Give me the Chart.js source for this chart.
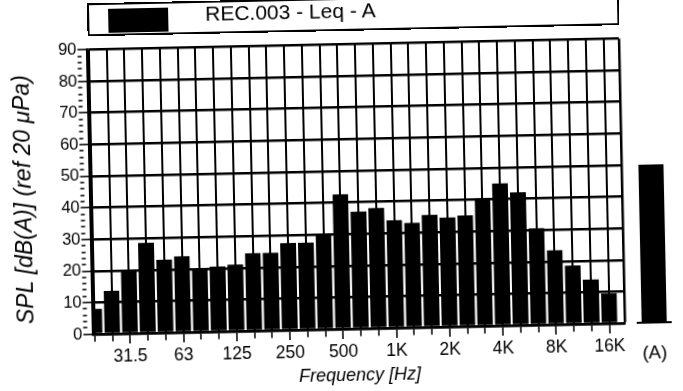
<!DOCTYPE html>
<html>
<head>
<meta charset="utf-8">
<script src="https://cdn.jsdelivr.net/npm/chart.js@4.4.1/dist/chart.umd.min.js"></script>
<style>
html,body{margin:0;padding:0;background:#fff;overflow:hidden;width:683px;height:391px;}
#wrap{position:absolute;left:0;top:0;width:683px;height:391px;transform:rotate(-1.2deg);transform-origin:341.5px 195.5px;}
#main{position:absolute;left:0;top:0;}
#side{position:absolute;left:628px;top:0;}
#legend{position:absolute;left:91px;top:-2px;width:528px;height:29px;border:2px solid #000;font-family:"Liberation Sans",Arial,sans-serif;color:#000;}
#legend .sw{position:absolute;left:19px;top:4px;width:60px;height:24px;background:#000;}
#legend .tx{position:absolute;left:116px;top:0px;font-size:21px;line-height:21px;white-space:nowrap;}
</style>
</head>
<body>
<div id="wrap">
  <canvas id="main" width="683" height="391"></canvas>
  <canvas id="side" width="58" height="391"></canvas>
  <div id="legend"><span class="sw"></span><span class="tx" id="legendText"></span></div>
</div>
<script>
// 1/3-octave band centres (Hz)
const bands = ['20','25','31.5','40','50','63','80','100','125','160','200','250','315','400','500','630','800','1K','1.25K','1.6K','2K','2.5K','3.15K','4K','5K','6.3K','8K','10K','12.5K','16K'];
// labelled frequencies on the x axis
const freqTickLabels = ['31.5','63','125','250','500','1K','2K','4K','8K','16K'];
// band levels, dB(A)
const levels = [8,13.5,19.5,28.5,23,24,20,20.5,21,24.5,24.5,27.5,27.5,30,42.5,37,38,34,33,35.5,34.5,35,40.5,45,42,30.5,23.5,18.5,14,9.5];
// overall A-weighted level
const overallLabel = ['(A)'];
const overallValue = [50];
// y tick labels
const yTickLabels = [0,10,20,30,40,50,60,70,80,90];

const seriesName = 'REC.003 - Leq - A';
const xTitle = 'Frequency [Hz]';
const yTitle = 'SPL [dB(A)] (ref 20 \u03bcPa)';

document.getElementById('legendText').textContent = seriesName;

const FAM = '"Liberation Sans", Arial, Helvetica, sans-serif';
const X_MIN = -0.07, X_MAX = 29.86;

const yTitlePlugin = {
  id: 'yTitleText',
  afterDraw(chart) {
    const ctx = chart.ctx;
    ctx.save();
    ctx.translate(24.5, 193);
    ctx.rotate(-Math.PI / 2);
    ctx.font = 'italic 23px ' + FAM;
    ctx.fillStyle = '#000';
    ctx.textAlign = 'center';
    ctx.textBaseline = 'middle';
    ctx.fillText(yTitle, 0, 0);
    ctx.restore();
  }
};

new Chart(document.getElementById('main'), {
  type: 'bar',
  data: {
    datasets: [{
      label: seriesName,
      data: levels.map((v, i) => ({x: i, y: v})),
      backgroundColor: '#000',
      borderColor: '#000',
      borderWidth: 0.5,
      barPercentage: 1,
      categoryPercentage: 1
    }]
  },
  options: {
    responsive: false,
    animation: false,
    devicePixelRatio: 1,
    layout: {padding: {left: 0, right: 61, top: 44.5, bottom: 0}},
    plugins: {legend: {display: false}, tooltip: {enabled: false}},
    scales: {
      x: {
        type: 'linear',
        offset: false,
        min: X_MIN,
        max: X_MAX,
        afterBuildTicks: s => { s.ticks = bands.map((b, i) => ({value: i})).concat([{value: X_MAX}]); },
        afterFit: s => { s.height = 62; s.paddingLeft = 0; s.paddingRight = 0; },
        grid: {
          offset: false,
          color: '#000',
          lineWidth: c => (c.tick && c.tick.value === X_MAX) ? 2.5 : 2,
          tickLength: 10,
          tickWidth: 1.5,
          tickColor: c => (c.tick && c.tick.value === X_MAX) ? 'rgba(0,0,0,0)' : '#000',
          tickBorderDash: c => (c.tick && freqTickLabels.includes(bands[c.tick.value])) ? [] : [6, 40]
        },
        border: {display: true, color: '#000', width: 2.5},
        ticks: {
          autoSkip: false, maxRotation: 0, minRotation: 0, padding: 3,
          color: '#000', font: {family: FAM, size: 17.5},
          callback: v => (freqTickLabels.includes(bands[v]) ? bands[v] : '')
        },
        title: {display: true, text: xTitle, color: '#000', font: {family: FAM, size: 18, style: 'italic'}, padding: {top: 0, bottom: 4}}
      },
      y: {
        min: 0, max: 90,
        afterFit: s => { s.width = 90.5; s.paddingTop = 0; s.paddingBottom = 0; },
        grid: {
          color: c => (c.tick && yTickLabels.includes(c.tick.value)) ? '#000' : 'rgba(0,0,0,0)',
          lineWidth: 2.5,
          tickLength: 10,
          tickWidth: 1.5,
          tickColor: '#000',
          tickBorderDash: c => (c.tick && yTickLabels.includes(c.tick.value)) ? [] : [4, 40]
        },
        border: {display: true, color: '#000', width: 2.5},
        ticks: {
          stepSize: 2, autoSkip: false, padding: 1,
          color: '#000', font: {family: FAM, size: 16.5},
          callback: v => (yTickLabels.includes(v) ? String(v) : '')
        }
      }
    }
  },
  plugins: [yTitlePlugin]
});

new Chart(document.getElementById('side'), {
  type: 'bar',
  data: {
    labels: overallLabel,
    datasets: [{
      label: seriesName,
      data: overallValue,
      backgroundColor: '#000',
      borderWidth: 0,
      barPercentage: 0.76,
      categoryPercentage: 1
    }]
  },
  options: {
    responsive: false,
    animation: false,
    devicePixelRatio: 1,
    layout: {padding: {left: 7, right: 18, top: 44.5, bottom: 0}},
    plugins: {legend: {display: false}, tooltip: {enabled: false}},
    scales: {
      x: {
        afterFit: s => { s.height = 62; s.paddingLeft = 0; s.paddingRight = 0; },
        grid: {display: false},
        border: {display: true, color: '#000', width: 2},
        ticks: {padding: 12, color: '#000', font: {family: FAM, size: 18.5}}
      },
      y: {display: false, min: 0, max: 90}
    }
  }
});
</script>
</body>
</html>
